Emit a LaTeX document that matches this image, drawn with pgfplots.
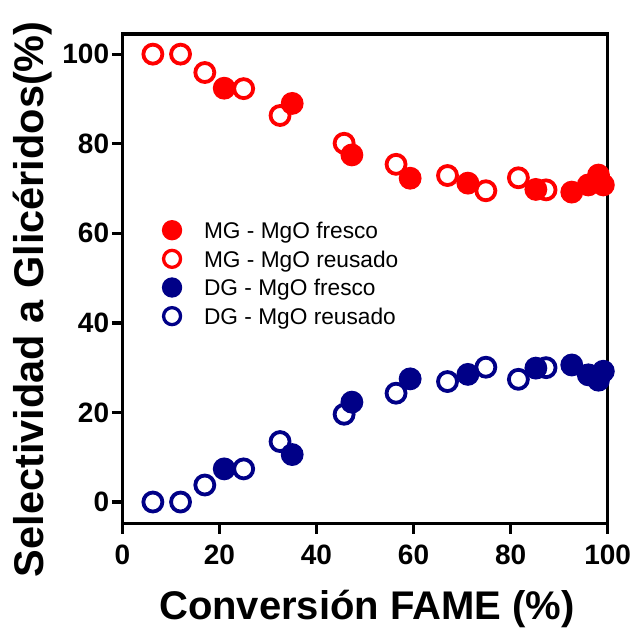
\documentclass[border=0pt]{standalone}
\usepackage{fontspec}
\setmainfont{Liberation Sans}
\usepackage{pgfplots}
\pgfplotsset{compat=1.18}
\definecolor{mgred}{RGB}{255,0,0}
\definecolor{dgblue}{RGB}{0,0,135}
\begin{document}
\begin{tikzpicture}
\begin{axis}[
  scale only axis, width=485.4bp, height=489.3bp,
  xmin=0, xmax=100, ymin=-4.75, ymax=104.5,
  xtick={0,20,...,100}, ytick={0,20,...,100},
  tick align=outside, xtick pos=left, ytick pos=left,
  major tick length=10.5bp,
  major tick style={black, line width=3.3bp},
  axis line style={black, line width=3.3bp},
  clip=false, axis on top,
  /pgf/number format/assume math mode=true,
  tick label style={font=\fontsize{28bp}{30bp}\selectfont\bfseries, inner sep=0pt},
  yticklabel style={anchor=east, xshift=-2.5bp},
  xticklabel style={anchor=north, yshift=-11bp},
  every axis x label/.style={at={(axis description cs:0.504,-0.1962)}, anchor=base, font=\fontsize{40bp}{48bp}\selectfont\bfseries},
  every axis y label/.style={at={(axis description cs:-0.1623,0.458)}, anchor=base, rotate=90, font=\fontsize{41.5bp}{48bp}\selectfont\bfseries},
  xlabel={Conversión FAME (\%)},
  ylabel={Selectividad a Glicéridos(\%)},
  legend image code/.code={\draw[#1] plot coordinates {(0bp,2.5bp)};},
  legend cell align=left,
  legend style={draw=none, fill=none, inner sep=0pt, outer sep=0pt,
    at={(axis description cs:0.085,0.6164)}, anchor=north west,
    row sep=7bp, column sep=23.5bp,
    font=\fontsize{22.7bp}{26bp}\selectfont,
    nodes={inner sep=0pt, text height=16.5bp, text depth=4.8bp}},
]
\coordinate (O) at (rel axis cs:0,0);
% open (reused) first
\addplot[forget plot, only marks, mark=*, mark size=9.5bp, mark options={draw=mgred, fill=white, line width=3.8bp}]
 coordinates {(6.3,100) (12.0,100) (17.0,95.9) (25.0,92.3) (32.5,86.3) (45.7,80.1) (56.4,75.4) (67.0,72.9) (74.9,69.5) (81.6,72.4) (87.3,69.7)};
\addplot[forget plot, only marks, mark=*, mark size=9.5bp, mark options={draw=dgblue, fill=white, line width=3.8bp}]
 coordinates {(6.3,0) (12.0,0) (17.0,3.8) (25.0,7.4) (32.5,13.5) (45.7,19.6) (56.4,24.3) (67.0,26.9) (74.9,30.1) (81.6,27.4) (87.3,30.0)};
\addplot[forget plot, only marks, mark=*, mark size=9.5bp, mark options={draw=mgred, fill=mgred, line width=3.8bp}]
 coordinates {(21.0,92.4) (35.0,89.0) (47.3,77.5) (59.3,72.3) (71.2,71.2) (85.2,69.8) (92.6,69.2) (96.0,70.8) (98.1,73.0) (99.1,70.8)};
\addplot[forget plot, only marks, mark=*, mark size=9.5bp, mark options={draw=dgblue, fill=dgblue, line width=3.8bp}]
 coordinates {(21.0,7.4) (35.0,10.6) (47.3,22.3) (59.3,27.5) (71.2,28.5) (85.2,29.9) (92.6,30.6) (96.0,28.4) (98.1,27.2) (99.1,29.2)};
\addlegendimage{only marks, mark=*, mark size=8.5bp, mark options={draw=mgred, fill=mgred, line width=3.3bp}}
\addlegendentry{MG - MgO fresco}
\addlegendimage{only marks, mark=*, mark size=8.5bp, mark options={draw=mgred, fill=white, line width=3.3bp}}
\addlegendentry{MG - MgO reusado}
\addlegendimage{only marks, mark=*, mark size=8.5bp, mark options={draw=dgblue, fill=dgblue, line width=3.3bp}}
\addlegendentry{DG - MgO fresco}
\addlegendimage{only marks, mark=*, mark size=8.5bp, mark options={draw=dgblue, fill=white, line width=3.3bp}}
\addlegendentry{DG - MgO reusado}
\end{axis}
\pgfresetboundingbox
\path[use as bounding box] ([shift={(-122.3bp,-104.7bp)}]O) rectangle ([shift={(510.7bp,523.3bp)}]O);
\end{tikzpicture}
\end{document}
